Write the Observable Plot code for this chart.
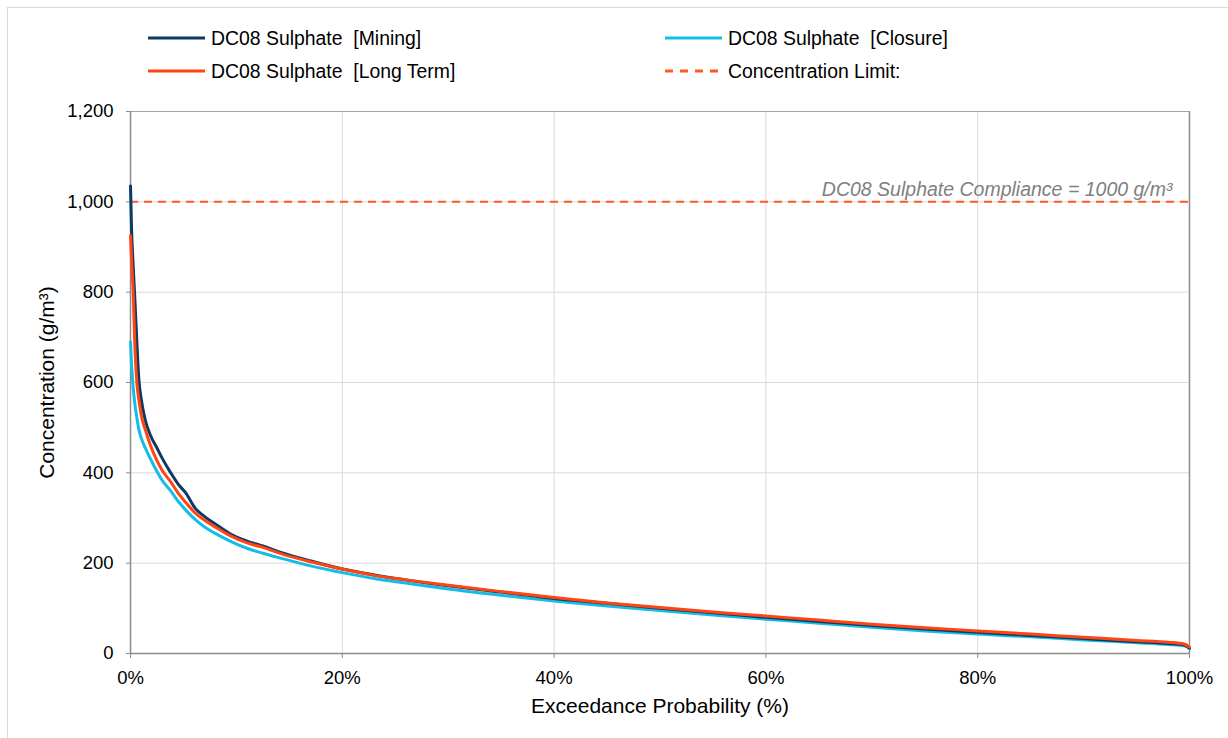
<!DOCTYPE html>
<html>
<head>
<meta charset="utf-8">
<script src="https://cdn.jsdelivr.net/npm/d3@7"></script>
<script src="https://cdn.jsdelivr.net/npm/@observablehq/plot@0.6"></script>
<style>
  html, body { margin: 0; padding: 0; background: #fff; }
  body { font-family: "Liberation Sans", Arial, sans-serif; }
  #wrap { position: relative; width: 1228px; height: 738px; overflow: hidden; }
  #border { position: absolute; left: 7px; top: 7px; width: 1240px; height: 760px; border: 1px solid #d9d9d9; box-sizing: border-box; }
  #legend { position: relative; height: 95px; }
  .item { position: absolute; display: flex; align-items: center; white-space: pre; font-size: 19.4px; color: #000; height: 24px; }
  .item svg { margin-right: 6px; }
  #chart { position: relative; }
</style>
</head>
<body>
<div id="wrap">
  <div id="border"></div>
  <div id="legend"></div>
  <div id="chart"></div>
</div>
<script>
// Exceedance probability (%) sample points
const exceedance = [0, 0.1, 0.25, 0.4, 0.6, 0.8, 1, 1.4, 1.9, 2.5, 3, 3.8, 4.5, 5.2, 6.1, 7, 8, 9.4, 11, 12.5, 14.2, 17, 20, 23, 26, 30, 35, 40, 45, 50, 55, 60, 65, 70, 75, 80, 85, 90, 95, 98, 99.5, 100];
// Concentration (g/m³) per series
const mining   = [1035, 940, 860, 790, 690, 604, 565, 516, 482, 455, 432, 400, 375, 356, 322, 303, 287, 265, 249, 238, 224, 205, 187, 174, 163, 150, 136, 122, 111, 100, 90, 80, 71, 62, 54, 47, 40, 33, 26, 22, 19, 12];
const closure  = [690, 640, 590, 555, 522, 495, 478, 455, 430, 403, 383, 360, 337, 318, 297, 280, 266, 249, 233, 222, 211, 194, 179, 166, 156, 143, 129, 116, 105, 95, 85, 76, 67, 58, 50, 43, 37, 30, 24, 20, 17, 11];
const longTerm = [925, 870, 800, 690, 600, 560, 530, 495, 460, 427, 405, 380, 355, 335, 311, 295, 280, 261, 245, 235, 221, 203, 187, 173, 163, 151, 137, 124, 112, 102, 92, 83, 74, 65, 57, 50, 43, 36, 29, 25, 21, 14];
const limit = 1000;

const seriesNames = ["DC08 Sulphate  [Mining]", "DC08 Sulphate  [Closure]", "DC08 Sulphate  [Long Term]", "Concentration Limit:"];
const seriesColors = ["#0b3a66", "#14bde6", "#ff4512", "#ff5a1f"];
const xTicks = [0, 20, 40, 60, 80, 100];
const yTicks = [0, 200, 400, 600, 800, 1000, 1200];
const annotation = "DC08 Sulphate Compliance = 1000 g/m³";
const xTitle = "Exceedance Probability (%)";
const yTitle = "Concentration (g/m³)";

const toRows = (vals) => exceedance.map((x, i) => ({x, y: vals[i]}));
const rowsMining = toRows(mining);
const rowsClosure = toRows(closure);
const rowsLong = toRows(longTerm);

// Legend
const legend = document.getElementById("legend");
const legendPos = [[148, 26], [665, 26], [148, 59], [665, 59]];
seriesNames.forEach((name, i) => {
  const d = document.createElement("div");
  d.className = "item";
  d.style.left = legendPos[i][0] + "px";
  d.style.top = legendPos[i][1] + "px";
  const dash = i === 3 ? 'stroke-dasharray="8,7"' : '';
  d.innerHTML = `<svg width="57" height="6"><line x1="0" y1="3" x2="57" y2="3" stroke="${seriesColors[i]}" stroke-width="3" ${dash}/></svg><span>${name}</span>`;
  legend.appendChild(d);
});

const axisGray = "#8c8c8c";
const gridGray = "#d9d9d9";
const font = "Liberation Sans, Arial, sans-serif";

const chart = Plot.plot({
  width: 1228,
  height: 643,
  marginLeft: 130,
  marginRight: 39,
  marginTop: 16,
  marginBottom: 85,
  style: {fontFamily: font, fontSize: "18.5px", background: "transparent", color: "#000"},
  x: {domain: [0, 100]},
  y: {domain: [0, 1200]},
  marks: [
    Plot.gridX(xTicks.slice(1, -1), {stroke: gridGray, strokeOpacity: 1}),
    Plot.gridY(yTicks.slice(1, -1), {stroke: gridGray, strokeOpacity: 1}),
    Plot.ruleY([1200], {stroke: "#a6a6a6"}),
    Plot.ruleX([100], {stroke: axisGray, strokeWidth: 1.5}),
    Plot.ruleX([0], {stroke: axisGray, strokeWidth: 1.5}),
    Plot.ruleY([0], {stroke: axisGray, strokeWidth: 1.5}),
    Plot.axisX(xTicks, {tickFormat: d => d + "%", tickSize: 5, tickPadding: 12, stroke: axisGray, fill: "#000", label: null, fontSize: 18.5}),
    Plot.axisY(yTicks, {tickFormat: d3.format(","), tickSize: 4, tickPadding: 13, stroke: axisGray, fill: "#000", label: null, fontSize: 18.5}),
    Plot.ruleY([limit], {stroke: seriesColors[3], strokeWidth: 2, strokeDasharray: "8,6"}),
    Plot.text([annotation], {x: 100, y: limit, dx: -17, dy: -6, textAnchor: "end", lineAnchor: "bottom", fontStyle: "italic", fill: "#7f7f7f", fontSize: 19.5}),
    Plot.line(rowsClosure, {x: "x", y: "y", stroke: seriesColors[1], strokeWidth: 3, curve: "monotone-x"}),
    Plot.line(rowsMining, {x: "x", y: "y", stroke: seriesColors[0], strokeWidth: 3, curve: "monotone-x"}),
    Plot.line(rowsLong, {x: "x", y: "y", stroke: seriesColors[2], strokeWidth: 3, curve: "monotone-x"}),
    Plot.text([xTitle], {frameAnchor: "bottom", dy: 53, lineAnchor: "middle", textAnchor: "middle", fontSize: 21, fill: "#000"}),
    Plot.text([yTitle], {frameAnchor: "left", dx: -83, rotate: -90, textAnchor: "middle", lineAnchor: "middle", fontSize: 21, fill: "#000"})
  ]
});
document.getElementById("chart").appendChild(chart);
</script>
</body>
</html>
